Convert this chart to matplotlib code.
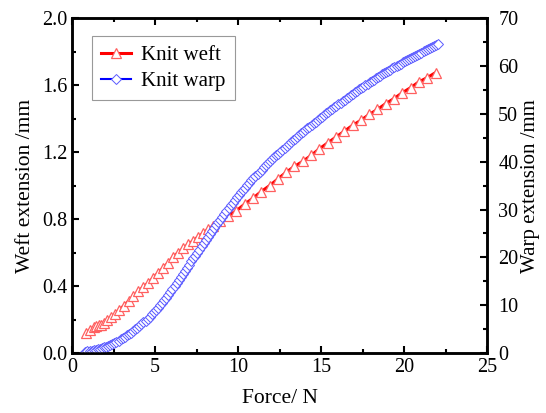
import matplotlib
matplotlib.use('Agg')
import matplotlib.pyplot as plt
from matplotlib.ticker import MultipleLocator, FormatStrFormatter

plt.rcParams['font.family'] = ['Liberation Serif', 'DejaVu Serif']

# Knit weft (left axis, mm)
weft_force = [0.85, 1.1, 1.3, 1.45, 1.6, 1.75, 1.9, 2.1, 2.35, 2.6, 2.85, 3.1, 3.4, 3.7,
              4.0, 4.3, 4.6, 4.9, 5.2, 5.5, 5.8, 6.1, 6.4, 6.7, 7.0, 7.3, 7.6, 7.9,
              8.2, 8.5, 8.9, 9.4, 9.9, 10.4, 10.9, 11.4, 11.9, 12.4, 12.9, 13.4, 13.9,
              14.4, 14.9, 15.4, 15.9, 16.4, 16.9, 17.4, 17.9, 18.4, 18.9, 19.4, 19.9,
              20.4, 20.9, 21.4, 21.9]
weft_ext = [0.12, 0.14, 0.155, 0.16, 0.165, 0.17, 0.18, 0.195, 0.215, 0.235, 0.26, 0.28,
            0.31, 0.34, 0.37, 0.395, 0.42, 0.45, 0.48, 0.51, 0.54, 0.575, 0.6, 0.625,
            0.65, 0.67, 0.695, 0.715, 0.74, 0.76, 0.79, 0.82, 0.85, 0.89, 0.925, 0.965,
            1.0, 1.04, 1.08, 1.115, 1.145, 1.18, 1.22, 1.255, 1.29, 1.325, 1.36, 1.39,
            1.425, 1.455, 1.49, 1.52, 1.555, 1.585, 1.62, 1.645, 1.675]

# Knit warp (right axis, mm)
warp_force = [0.8, 0.925, 1.05, 1.175, 1.3, 1.425, 1.55, 1.675, 1.8, 1.925, 2.05, 2.175,
              2.3, 2.425, 2.55, 2.675, 2.8, 2.925, 3.05, 3.175, 3.3, 3.425, 3.55, 3.675,
              3.8, 3.925, 4.05, 4.175, 4.3, 4.425, 4.55, 4.675, 4.8, 4.925, 5.05, 5.175,
              5.3, 5.425, 5.55, 5.675, 5.8, 5.925, 6.05, 6.175, 6.3, 6.425, 6.55, 6.675,
              6.8, 6.925, 7.05, 7.175, 7.3, 7.425, 7.55, 7.675, 7.8, 7.925, 8.05, 8.175,
              8.3, 8.425, 8.55, 8.675, 8.8, 8.925, 9.05, 9.175, 9.3, 9.425, 9.55, 9.675,
              9.8, 9.925, 10.05, 10.175, 10.3, 10.425, 10.55, 10.675, 10.8, 10.925, 11.05,
              11.175, 11.3, 11.425, 11.55, 11.675, 11.8, 11.925, 12.05, 12.175, 12.3,
              12.425, 12.55, 12.675, 12.8, 12.925, 13.05, 13.175, 13.3, 13.425, 13.55,
              13.675, 13.8, 13.925, 14.05, 14.175, 14.3, 14.425, 14.55, 14.675, 14.8,
              14.925, 15.05, 15.175, 15.3, 15.425, 15.55, 15.675, 15.8, 15.925, 16.05,
              16.175, 16.3, 16.425, 16.55, 16.675, 16.8, 16.925, 17.05, 17.175, 17.3,
              17.425, 17.55, 17.675, 17.8, 17.925, 18.05, 18.175, 18.3, 18.425, 18.55,
              18.675, 18.8, 18.925, 19.05, 19.175, 19.3, 19.425, 19.55, 19.675, 19.8,
              19.925, 20.05, 20.175, 20.3, 20.425, 20.55, 20.675, 20.8, 20.925, 21.05,
              21.175, 21.3, 21.425, 21.55, 21.675, 21.8, 21.925, 22.05]
warp_ext = [0.30, 0.37, 0.45, 0.52, 0.60, 0.70, 0.80, 0.92, 1.05, 1.20, 1.35, 1.52,
            1.70, 1.90, 2.10, 2.35, 2.60, 2.87, 3.15, 3.42, 3.70, 4.00, 4.30, 4.62,
            4.95, 5.30, 5.65, 6.02, 6.40, 6.80, 7.20, 7.65, 8.10, 8.57, 9.05, 9.52,
            10.0, 10.5, 11.0, 11.55, 12.1, 12.7, 13.3, 13.95, 14.6, 15.25, 15.9, 16.55,
            17.2, 17.85, 18.5, 19.15, 19.8, 20.4, 21.0, 21.65, 22.3, 22.95, 23.6, 24.25,
            24.9, 25.5, 26.1, 26.7, 27.3, 27.9, 28.5, 29.1, 29.7, 30.3, 30.9, 31.45,
            32.0, 32.55, 33.1, 33.6, 34.1, 34.6, 35.1, 35.6, 36.1, 36.55, 37.0,
            37.45, 37.9, 38.35, 38.8, 39.25, 39.7, 40.1, 40.5, 40.9, 41.3,
            41.7, 42.1, 42.5, 42.9, 43.3, 43.7, 44.1, 44.5, 44.85, 45.2,
            45.55, 45.9, 46.25, 46.6, 46.95, 47.3, 47.65, 48.0, 48.35, 48.7,
            49.05, 49.4, 49.75, 50.1, 50.45, 50.8, 51.1, 51.4, 51.7, 52.0,
            52.35, 52.7, 53.0, 53.3, 53.6, 53.9, 54.2, 54.5, 54.8, 55.1,
            55.4, 55.7, 56.0, 56.3, 56.6, 56.9, 57.15, 57.4, 57.7, 58.0,
            58.25, 58.5, 58.75, 59.0, 59.25, 59.5, 59.75, 60.0, 60.25, 60.5,
            60.75, 61.0, 61.25, 61.5, 61.7, 61.9, 62.15, 62.4, 62.6, 62.8,
            63.05, 63.3, 63.5, 63.7, 63.95, 64.2, 64.4, 64.6]

fig = plt.figure(figsize=(5.46, 4.13), dpi=100)
ax = fig.add_axes([0.132, 0.145, 0.76, 0.811])
ax2 = ax.twinx()

l1, = ax.plot(weft_force, weft_ext, color='#ff0000', lw=2.2,
              marker='^', ms=6.5, mfc='white', mec='#ff6060', mew=0.9,
              label='Knit weft')
l2, = ax2.plot(warp_force, warp_ext, color='#0000ff', lw=1.5,
               marker='D', ms=5, mfc='white', mec='#5a5aff', mew=0.7,
               label='Knit warp')

ax.set_xlim(0, 25)
ax.set_ylim(0, 2.0)
ax2.set_ylim(0, 70)

ax.xaxis.set_major_locator(MultipleLocator(5))
ax.xaxis.set_minor_locator(MultipleLocator(2.5))
ax.yaxis.set_major_locator(MultipleLocator(0.4))
ax.yaxis.set_minor_locator(MultipleLocator(0.2))
ax2.yaxis.set_major_locator(MultipleLocator(10))
ax2.yaxis.set_minor_locator(MultipleLocator(5))
ax.yaxis.set_major_formatter(FormatStrFormatter('%.1f'))

ax.tick_params(which='both', direction='in', top=True, right=False,
               labelsize=14.5, width=1.5)
ax.tick_params(which='major', length=5)
ax.tick_params(which='minor', length=3)
ax2.tick_params(which='both', direction='in', labelsize=14.5, width=1.5)
ax2.tick_params(which='major', length=5, pad=8)
ax2.tick_params(which='minor', length=3)

for a in (ax, ax2):
    for s in a.spines.values():
        s.set_linewidth(1.8)

ax.set_xlabel('Force/ N', fontsize=15.5, labelpad=9)
ax.set_ylabel('Weft extension /mm', fontsize=15.5, labelpad=5)
ax2.set_ylabel('Warp extension /mm', fontsize=15, labelpad=2)

leg = ax.legend(handles=[l1, l2], loc='upper left', bbox_to_anchor=(0.048, 0.946),
                borderaxespad=0, fontsize=15, frameon=True, fancybox=False,
                handlelength=1.4, borderpad=0.45, labelspacing=0.3, handletextpad=0.5)
leg.get_frame().set_edgecolor('#808080')
leg.get_frame().set_linewidth(0.8)

fig.savefig('out.png', dpi=100)
